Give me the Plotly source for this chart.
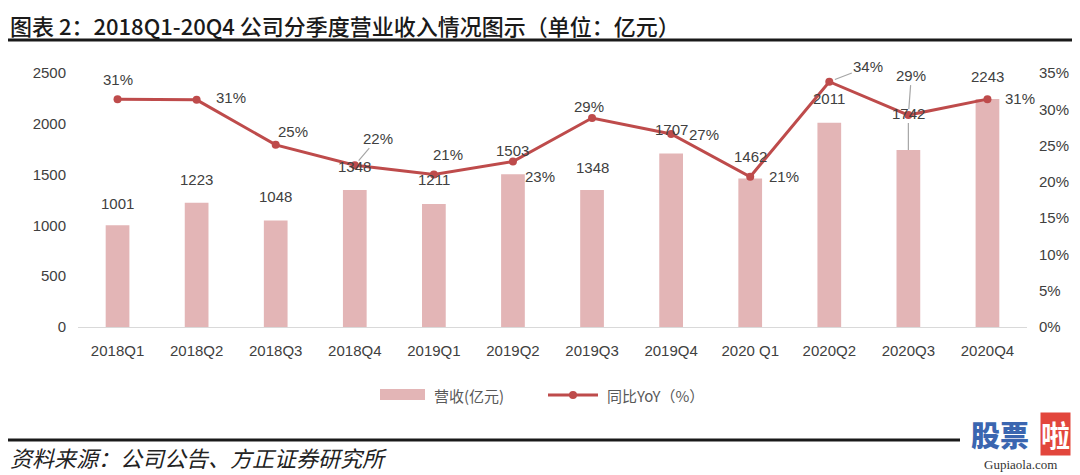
import plotly.graph_objects as go

# ---------------- data ----------------
quarters = ["2018Q1", "2018Q2", "2018Q3", "2018Q4", "2019Q1", "2019Q2",
            "2019Q3", "2019Q4", "2020 Q1", "2020Q2", "2020Q3", "2020Q4"]
revenue = [1001, 1223, 1048, 1348, 1211, 1503, 1348, 1707, 1462, 2011, 1742, 2243]
yoy = [0.314, 0.313, 0.251, 0.223, 0.210, 0.228, 0.288, 0.266, 0.207, 0.338, 0.292, 0.314]
left_ticks = [0, 500, 1000, 1500, 2000, 2500]
right_ticks = [0, 0.05, 0.10, 0.15, 0.20, 0.25, 0.30, 0.35]

title_text = "图表 2：2018Q1-20Q4 公司分季度营业收入情况图示（单位：亿元）"
source_text = "资料来源：公司公告、方正证券研究所"
bar_name = "营收(亿元)"
line_name = "同比YoY（%）"

# ---------------- style ----------------
OFF = 8  # page body margin compensation
W, H = 1080 - OFF, 475 - OFF
# plot area in window pixels: left 78, right 1027, top 73, bottom 327
ML, MR, MT, MB = 78 - OFF, 1080 - 1027, 73 - OFF, 475 - 327
PW, PH = W - ML - MR, H - MT - MB
BAR_COLOR = "#E3B5B6"
LINE_COLOR = "#BE4B4B"
TXT = "#404040"
FONT = "Liberation Sans, Arial, Noto Sans CJK SC, sans-serif"
CJK = "Noto Sans CJK SC, sans-serif"

def px(x):
    # window pixel x -> paper
    return (x - OFF - ML) / PW

def py(y):
    # window pixel y -> paper
    return (327 - y) / PH

# label offsets (pixels): bar labels (yshift) and pct labels (xshift, yshift)
bar_shift = [22, 23, 24, 24, 24, 24, 23, 24, 22, 24, 37, 23]
pct_shift = [(0, 20), (34, 2), (17, 13), (23, 27), (14, 20), (27, -15),
             (-3, 11), (33, -1), (34, 0), (39, 15), (3, 40), (33, 1)]
pct_leader = [False, False, False, True, False, False,
              False, False, False, True, True, False]
bar_leader = [False] * 10 + [True, False]

fig = go.Figure()
fig.add_trace(go.Bar(x=quarters, y=revenue, name=bar_name, marker_color=BAR_COLOR,
                     marker_line_width=0, showlegend=False, yaxis="y"))
fig.add_trace(go.Scatter(x=quarters, y=yoy, name=line_name, mode="lines+markers",
                         line=dict(color=LINE_COLOR, width=3),
                         marker=dict(color=LINE_COLOR, size=8),
                         showlegend=False, yaxis="y2"))

ann = []
for i, (q, v) in enumerate(zip(quarters, revenue)):
    if bar_leader[i]:
        ann.append(dict(x=q, y=v, xref="x", yref="y", text=str(v), showarrow=True,
                        arrowhead=0, arrowcolor="#A6A6A6", arrowwidth=1.2,
                        ax=0, ay=-bar_shift[i], standoff=0,
                        font=dict(family=FONT, size=15, color=TXT)))
    else:
        ann.append(dict(x=q, y=v, xref="x", yref="y", text=str(v), showarrow=False,
                        yshift=bar_shift[i], font=dict(family=FONT, size=15, color=TXT)))
for i, (q, v) in enumerate(zip(quarters, yoy)):
    t = f"{round(v * 100):d}%"
    dx, dy = pct_shift[i]
    if pct_leader[i]:
        ann.append(dict(x=q, y=v, xref="x", yref="y2", text=t, showarrow=True,
                        arrowhead=0, arrowcolor="#A6A6A6", arrowwidth=1.2,
                        ax=dx, ay=-dy, standoff=6,
                        font=dict(family=FONT, size=15, color=TXT)))
    else:
        ann.append(dict(x=q, y=v, xref="x", yref="y2", text=t, showarrow=False,
                        xshift=dx, yshift=dy, font=dict(family=FONT, size=15, color=TXT)))

# title & source
ann.append(dict(x=px(9), y=py(OFF), xref="paper", yref="paper", text=title_text,
                showarrow=False, xanchor="left", yanchor="top", borderpad=0,
                font=dict(family=CJK, size=22, color="#1a1a1a", weight=500)))
ann.append(dict(x=px(9), y=py(457), xref="paper", yref="paper", text=source_text,
                showarrow=False, xanchor="left", yanchor="middle", borderpad=0,
                font=dict(family=CJK, size=22, color="#222222", style="italic")))

# custom legend
ann.append(dict(x=px(432), y=py(395), xref="paper", yref="paper", text=bar_name,
                showarrow=False, xanchor="left", yanchor="middle",
                font=dict(family=CJK, size=15, color="#595959")))
ann.append(dict(x=px(605), y=py(395), xref="paper", yref="paper", text=line_name,
                showarrow=False, xanchor="left", yanchor="middle",
                font=dict(family=CJK, size=15, color="#595959")))

# watermark
ann.append(dict(x=px(1030), y=py(434), xref="paper", yref="paper",
                text="股票", showarrow=False, xanchor="right", yanchor="middle",
                borderpad=0,
                font=dict(family=CJK, size=29, color="#3B66B0", weight=900)))
ann.append(dict(x=px(1055), y=py(434), xref="paper", yref="paper",
                text="啦", showarrow=False, xanchor="center", yanchor="middle",
                bgcolor="#E2463C", borderpad=0,
                font=dict(family=CJK, size=29, color="white", weight=700)))
ann.append(dict(x=px(1020), y=py(464), xref="paper", yref="paper",
                text="Gupiaola.com", showarrow=False, xanchor="center", yanchor="middle",
                borderpad=0,
                font=dict(family="Liberation Serif, serif", size=13, color="#333333")))

shapes = [
    dict(type="line", xref="paper", yref="paper", x0=px(8), x1=px(1080),
         y0=py(40), y1=py(40), line=dict(color="#1a1a1a", width=3)),
    dict(type="line", xref="paper", yref="paper", x0=px(8), x1=px(960),
         y0=py(440), y1=py(440), line=dict(color="#1a1a1a", width=3)),
    dict(type="rect", xref="paper", yref="paper", x0=px(380), x1=px(425),
         y0=py(400), y1=py(389), fillcolor=BAR_COLOR, line=dict(width=0)),
    dict(type="line", xref="paper", yref="paper", x0=px(548), x1=px(598),
         y0=py(395), y1=py(395), line=dict(color=LINE_COLOR, width=3)),
    dict(type="circle", xref="paper", yref="paper", x0=px(569), x1=px(577),
         y0=py(399), y1=py(391), fillcolor=LINE_COLOR, line=dict(width=0)),
]

fig.update_layout(
    width=W, height=H,
    margin=dict(l=ML, r=MR, t=MT, b=MB, pad=0, autoexpand=False),
    paper_bgcolor="white", plot_bgcolor="white",
    bargap=0.70,
    showlegend=False,
    annotations=ann,
    shapes=shapes,
    xaxis=dict(type="category", range=[-0.5, len(quarters) - 0.5], showgrid=False,
               showline=True, linecolor="#D9D9D9",
               linewidth=1, ticks="outside", ticklen=10, tickcolor="rgba(0,0,0,0)",
               tickfont=dict(family=FONT, size=15, color=TXT)),
    yaxis=dict(range=[0, 2500], tickvals=left_ticks, showgrid=False, zeroline=False,
               showline=False, ticks="outside", ticklen=8, tickcolor="rgba(0,0,0,0)",
               tickfont=dict(family=FONT, size=15, color=TXT)),
    yaxis2=dict(range=[0, 0.35], tickvals=right_ticks, tickformat=".0%", overlaying="y",
                side="right", showgrid=False, zeroline=False, showline=False,
                ticks="outside", ticklen=8, tickcolor="rgba(0,0,0,0)",
                tickfont=dict(family=FONT, size=15, color=TXT)),
)

fig.write_html("out.html")
